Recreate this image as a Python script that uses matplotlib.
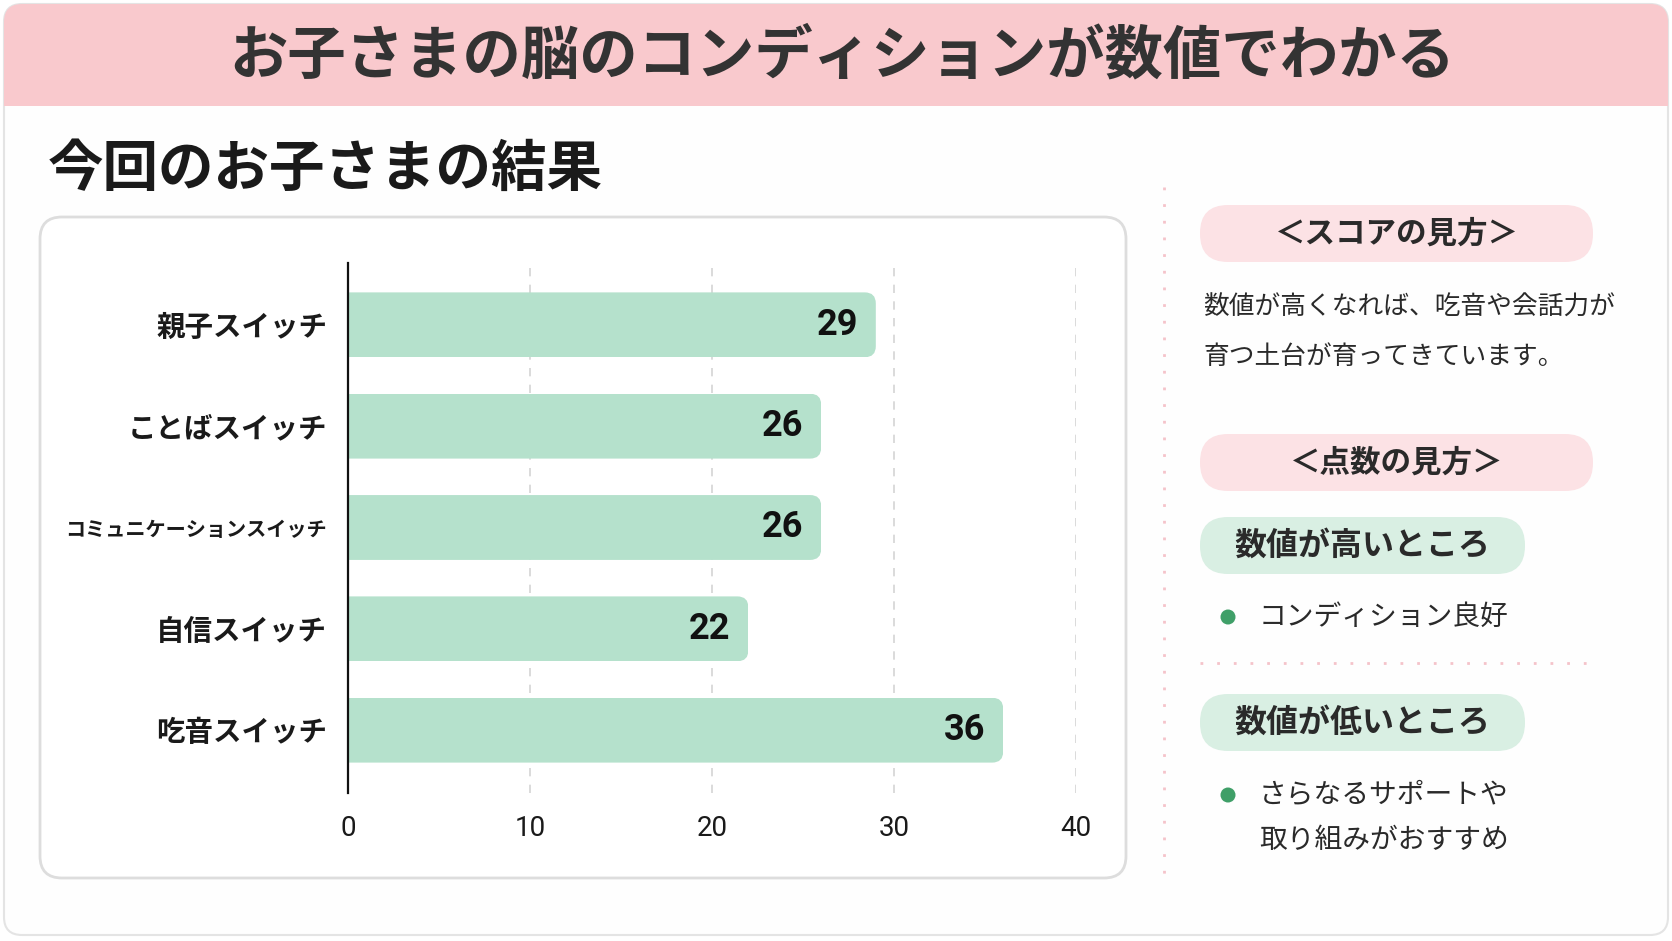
import matplotlib
matplotlib.use('Agg')
import matplotlib.pyplot as plt
from matplotlib.patches import FancyBboxPatch, Rectangle, Circle

plt.rcParams['font.family'] = ['Noto Sans CJK JP', 'DejaVu Sans']

# data
categories = ['親子スイッチ', 'ことばスイッチ', 'コミュニケーションスイッチ', '自信スイッチ', '吃音スイッチ']
scores = [29, 26, 26, 22, 36]
x_ticks = [0, 10, 20, 30, 40]

title = 'お子さまの脳のコンディションが数値でわかる'
subtitle = '今回のお子さまの結果'
score_head = '＜スコアの見方＞'
score_text = ['数値が高くなれば、吃音や会話力が', '育つ土台が育ってきています。']
point_head = '＜点数の見方＞'
high_head = '数値が高いところ'
high_text = ['コンディション良好']
low_head = '数値が低いところ'
low_text = ['さらなるサポートや', '取り組みがおすすめ']

bar_color = '#b5e1cc'
pink = '#f9c9cd'
pink_light = '#fce2e5'
green_light = '#d9efe3'
dot_green = '#3f9f68'
text_dark = '#2a2a2a'

W, H = 1672, 941
fig = plt.figure(figsize=(W / 100, H / 100), dpi=100)
fig.patch.set_facecolor('white')

# background layer in pixel coords
bg = fig.add_axes([0, 0, 1, 1], zorder=0)
bg.set_xlim(0, W)
bg.set_ylim(H, 0)
bg.axis('off')

bg.add_patch(FancyBboxPatch((4, 4), W - 8, H - 10, boxstyle='round,pad=0,rounding_size=18',
                            fc='#fefefe', ec='#e4e4e4', lw=1.5))
bg.add_patch(FancyBboxPatch((4, 4), W - 8, 102, boxstyle='round,pad=0,rounding_size=18',
                            fc=pink, ec='none'))
bg.add_patch(Rectangle((4, 60), W - 8, 46, fc=pink, ec='none'))
bg.text(W / 2 + 6, 56, title, ha='center', va='center', fontsize=42, fontweight='bold', color='#333333')

bg.text(48, 170, subtitle, ha='left', va='center', fontsize=40, fontweight='bold', color='#1a1a1a')

# chart card
bg.add_patch(FancyBboxPatch((40, 217), 1086, 661, boxstyle='round,pad=0,rounding_size=22',
                            fc='white', ec='#dddddd', lw=2))

# right panel
bg.plot([1164, 1164], [187, 887], color='#f5c3ca', lw=2, linestyle=(0, (1, 5)))


def pill(x, y, w, h, color, label, size=22):
    bg.add_patch(FancyBboxPatch((x, y), w, h, boxstyle='round,pad=0,rounding_size=%d' % (h // 2),
                                fc=color, ec='none'))
    bg.text(x + w / 2, y + h / 2, label, ha='center', va='center', fontsize=size,
            fontweight='bold', color=text_dark)


pill(1200, 205, 393, 57, pink_light, score_head)
for i, line in enumerate(score_text):
    bg.text(1203, 308 + i * 49, line, ha='left', va='center', fontsize=18.5, color=text_dark)

pill(1200, 434, 393, 57, pink_light, point_head)
pill(1200, 517, 325, 57, green_light, high_head, 23)
bg.add_patch(Circle((1228, 617), 7.5, fc=dot_green, ec='none'))
for i, line in enumerate(high_text):
    bg.text(1259, 617 + i * 45, line, ha='left', va='center', fontsize=20, color=text_dark)

bg.plot([1200, 1593], [663, 663], color='#f5c3ca', lw=2, linestyle=(0, (1, 5)))

pill(1200, 694, 325, 57, green_light, low_head, 23)
bg.add_patch(Circle((1228, 795), 7.5, fc=dot_green, ec='none'))
for i, line in enumerate(low_text):
    bg.text(1259, 795 + i * 45, line, ha='left', va='center', fontsize=20, color=text_dark)

# bar chart
ax_l, ax_r, ax_t, ax_b = 348, 1076, 263, 793
ax = fig.add_axes([ax_l / W, 1 - ax_b / H, (ax_r - ax_l) / W, (ax_b - ax_t) / H], zorder=1)
ax.patch.set_alpha(0)
ypos = list(range(len(categories)))
ax.set_xlim(0, 40)
ax.set_ylim(4.62, -0.61)

for t in x_ticks[1:]:
    ax.axvline(t, color='#d4d4d4', lw=1.2, linestyle=(0, (5, 5)), zorder=0)

bars = ax.barh(ypos, scores, height=0.64, color=bar_color, zorder=2)

# rounded right ends
px_x = 40 / (ax_r - ax_l)
px_y = 5.23 / (ax_b - ax_t)
r = 11 * px_x
for b in bars:
    clip = FancyBboxPatch((b.get_x() - 2 * r, b.get_y()), b.get_width() + 2 * r, b.get_height(),
                          boxstyle='round,pad=0,rounding_size=%f' % r,
                          mutation_aspect=px_y / px_x, transform=ax.transData,
                          fc='none', ec='none')
    ax.add_patch(clip)
    clip.set_visible(False)
    b.set_clip_path(clip)

for y, v in zip(ypos, scores):
    ax.text(v - 18 * px_x, y, str(v), ha='right', va='center', fontsize=26,
            fontweight='bold', color='#111111', family=['Roboto', 'DejaVu Sans'], zorder=3)

ax.set_xticks(x_ticks)
ax.set_xticklabels([str(t) for t in x_ticks], family=['Roboto', 'DejaVu Sans'])
ax.set_yticks(ypos)
ax.set_yticklabels(categories)
for lab in ax.get_yticklabels():
    lab.set_fontweight('bold')
    lab.set_color('#1a1a1a')
    lab.set_fontsize(14.5 if len(lab.get_text()) > 10 else 20.5)
ax.tick_params(axis='x', length=0, pad=16, labelsize=20, labelcolor='#1a1a1a')
ax.tick_params(axis='y', length=0, pad=15)
for s in ['top', 'right', 'bottom']:
    ax.spines[s].set_visible(False)
ax.spines['left'].set_color('#111111')
ax.spines['left'].set_linewidth(1.6)
ax.spines['left'].set_zorder(4)

fig.savefig('out.png', dpi=100)
